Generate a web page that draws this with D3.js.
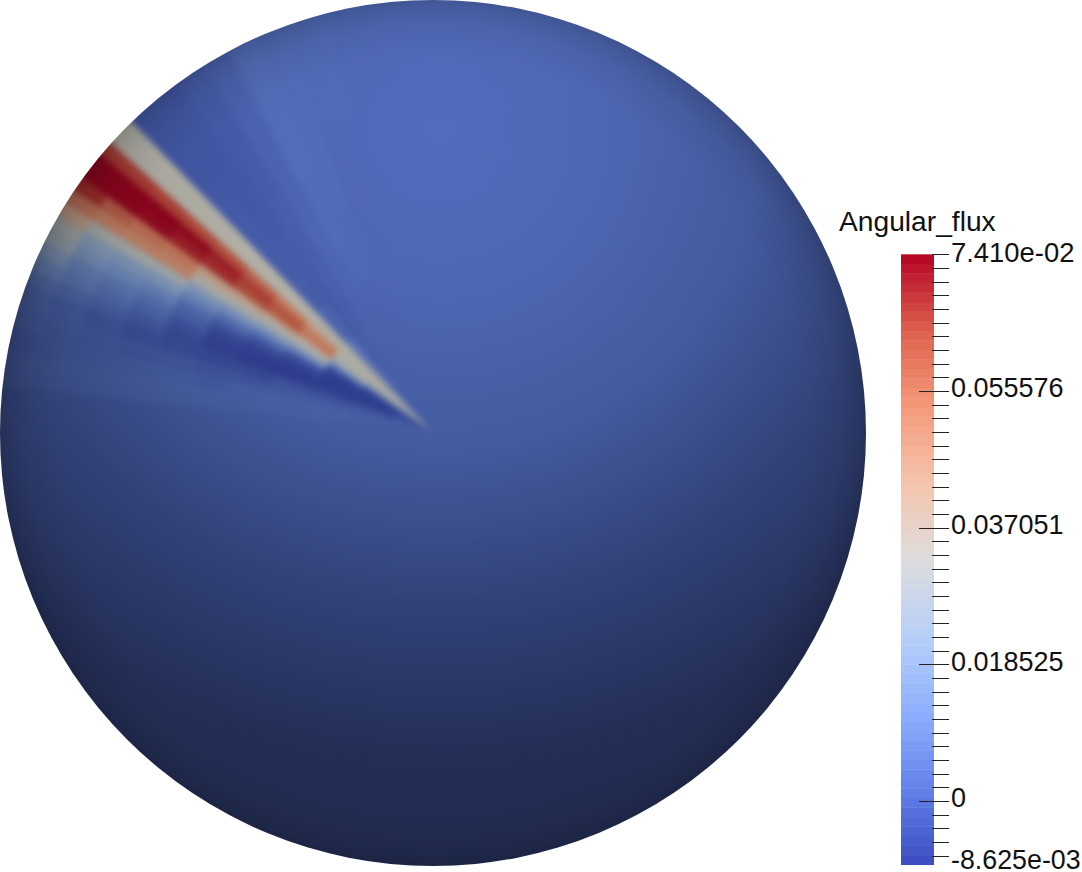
<!DOCTYPE html>
<html>
<head>
<meta charset="utf-8">
<script src="https://cdnjs.cloudflare.com/ajax/libs/d3/7.8.5/d3.min.js"></script>
<style>html,body{margin:0;padding:0;background:#fff;overflow:hidden}svg{display:block}</style>
</head>
<body>
<script>
// ---------- data ----------
const legendTitle = "Angular_flux";
const fluxMin = -8.625e-3, fluxMax = 7.410e-2;
const majorTicks = [0, 0.018525, 0.037051, 0.055576];
const tickLabels = ["0", "0.018525", "0.037051", "0.055576"];
const minLabel = "-8.625e-03", maxLabel = "7.410e-02";
const colorPalette = ["#3b4cc0","#6282ea","#8db0fe","#b8d0f9","#dddddd","#f5c4ad","#f49a7b","#de604d","#b40426"];
const bandCount = 64;
const backgroundFlux = 0.2e-3;
// angular edges in degrees above the leftward direction
const angleEdges = [6,11,14,17,20,22,24,26,28,30,32,34,36,38,40,42,44,46,50,54,58,62,66,70,76];
// radial edges of the rings, pixels of the disc
const ringEdges = [0,40,80,123,165,205,245,285,325,365,400,446];
// flux in 1e-3 units: one row per ring, one column per angular bin
const fluxMilli = [
 [0,0,0,0,-1,-3,-5,-6,-6,-6,-5,4,22,33,33,33,33, 4,0,0,0,0,0,0],
 [0.5,0,0,-2,-6,-8,-8,-8,-8,-7,-5,6,26,33,33,33,33, 6,0,0,0,0,0,0],
 [1,1,-1,-3,-7,-8,-8,-8,-8,-7,1,18,30,33,33,33,33, 5,-1,-0.5,0,0,0,0],
 [1,1,-1,-3,-8,-8,-8,-6,-2,12,28,33,52,54,46,33,33, 1,-1.5,-1,0,0,0,0],
 [1,1,-2,-5,-8,-8,-7,-4,3,14,28,36,60,62,54,33,33, -1,-2,-1,0,0.5,0.5,0],
 [1.5,0,-2,-5,-7,-7,-6,-1,6,16,30,40,64,66,58,33,33, -1.5,-2,-1.5,0,1,0.5,0],
 [2,1,-1,-4,-5,-3,0,3,10,18,32,42,68,70,62,33,33, -1.5,-2.5,-1.5,-0.5,1,1,0],
 [2,1,-1,-3,-1,2,5,10,17,28,50,54,70,73,64,33,33, -2,-2.5,-2,-0.5,1.5,1,0],
 [2,1,0,-1,2,5,8,13,18,30,51,56,73,74,65,33,33, -2.5,-2.5,-2,-0.5,1.5,1,0.5],
 [2,1,1,1,4,8,10,16,20,31,52,60,74,74,66,33,33, -2.5,-2.5,-2,-0.5,1.5,1,0.5],
 [2,1,2,3,6,11,18,26,30,42,55,68,74,74,66,33,33, -2.5,-2.5,-1.5,-0.5,1.5,1,0.5]
];
// sphere lighting: distance from the highlight as a fraction, and brightness
const lightOffsets = [0, 0.2, 0.42, 0.62, 0.82, 1];
const lightLevels = [0.89, 0.85, 0.74, 0.54, 0.38, 0.35];
const lightBlueTint = [0.93, 0.93, 0.95, 0.98, 1, 1];
const rimOffsets = [0, 0.86, 0.94, 0.98, 1];
const rimLevels = [1, 1, 0.95, 0.88, 0.82];

// ---------- layout ----------
const W = 1082, H = 872;
const disc = {cx: 433, cy: 433, r: 433};
const apex = {x: 431, y: 431};
const bar = {x0: 901, x1: 934, tickEnd: 949, majorStart: 919, minorStart: 932, labelX: 951};

const svg = d3.select("body").append("svg").attr("width", W).attr("height", H);
const defs = svg.append("defs");

const yScale = d3.scaleLinear().domain([0, fluxMax]).range([801, 254.3]);
const colorT = d3.scaleLinear().domain([fluxMin, fluxMax]).range([0, 1]);
const paletteT = d3.scaleLinear()
  .domain(colorPalette.map((_, i) => i / (colorPalette.length - 1)))
  .range(colorPalette).interpolate(d3.interpolateRgb);
const color = v => paletteT(colorT(v));

// ---------- disc ----------
defs.append("clipPath").attr("id", "discClip").append("circle")
  .attr("cx", disc.cx).attr("cy", disc.cy).attr("r", disc.r);
defs.append("filter").attr("id", "smooth")
  .attr("filterUnits", "userSpaceOnUse").attr("x", -40).attr("y", -40).attr("width", 1000).attr("height", 1000)
  .attr("color-interpolation-filters", "sRGB")
  .append("feGaussianBlur").attr("stdDeviation", 3);

const lightGrad = defs.append("radialGradient").attr("id", "light")
  .attr("gradientUnits", "userSpaceOnUse").attr("cx", 440).attr("cy", 130).attr("r", 760);
lightOffsets.forEach((o, i) => lightGrad.append("stop").attr("offset", o)
  .attr("stop-color", d3.rgb(255 * lightLevels[i], 255 * lightLevels[i], 255 * lightLevels[i] * lightBlueTint[i])));
const rimGrad = defs.append("radialGradient").attr("id", "rim")
  .attr("gradientUnits", "userSpaceOnUse").attr("cx", disc.cx).attr("cy", disc.cy).attr("r", disc.r);
rimOffsets.forEach((o, i) => rimGrad.append("stop").attr("offset", o)
  .attr("stop-color", d3.rgb(255 * rimLevels[i], 255 * rimLevels[i], 255 * rimLevels[i])));

const discG = svg.append("g").attr("clip-path", "url(#discClip)").style("isolation", "isolate");
discG.append("circle").attr("cx", disc.cx).attr("cy", disc.cy).attr("r", disc.r + 2).attr("fill", color(backgroundFlux));

const toRad = d3.scaleLinear().domain([90, 0]).range([0, -Math.PI / 2]);
const arc = d3.arc();
const cells = fluxMilli.flatMap((row, ri) => row.map((v, ai) => ({
  innerRadius: ringEdges[ri], outerRadius: ringEdges[ri + 1],
  startAngle: toRad(angleEdges[ai]), endAngle: toRad(angleEdges[ai + 1]),
  value: v * 1e-3
})));
discG.append("g").attr("filter", "url(#smooth)")
  .append("g").attr("transform", `translate(${apex.x},${apex.y})`)
  .selectAll("path").data(cells).join("path")
  .attr("d", arc).attr("fill", d => color(d.value)).attr("stroke", d => color(d.value)).attr("stroke-width", 0.6);

discG.append("circle").attr("cx", disc.cx).attr("cy", disc.cy).attr("r", disc.r + 2)
  .attr("fill", "url(#light)").style("mix-blend-mode", "multiply");
discG.append("circle").attr("cx", disc.cx).attr("cy", disc.cy).attr("r", disc.r + 1)
  .attr("fill", "url(#rim)").style("mix-blend-mode", "multiply");

// ---------- colour bar ----------
const font = "'Liberation Sans', Arial, sans-serif";
const bandStep = (fluxMax - fluxMin) / bandCount;
const bands = d3.range(bandCount).map(i => fluxMin + (i + 0.5) * bandStep);
svg.append("g").selectAll("rect").data(bands).join("rect")
  .attr("x", bar.x0).attr("width", bar.x1 - bar.x0)
  .attr("y", d => yScale(d + bandStep / 2))
  .attr("height", d => yScale(d - bandStep / 2) - yScale(d + bandStep / 2) + 0.4)
  .attr("fill", d => color(d));

const minorStep = 0.018525 / 10;
const minorTicks = d3.range(-4, 41).map(i => i * minorStep);
const isMajor = v => majorTicks.some(m => Math.abs(m - v) < minorStep / 4);
const tickG = svg.append("g").attr("stroke", "#222").attr("stroke-width", 1);
tickG.selectAll("line").data(minorTicks).join("line")
  .attr("x1", d => isMajor(d) ? bar.majorStart : bar.minorStart)
  .attr("x2", bar.tickEnd)
  .attr("y1", d => Math.round(yScale(d)) + 0.5).attr("y2", d => Math.round(yScale(d)) + 0.5);

const textG = svg.append("g").attr("font-family", font).attr("fill", "#111").attr("font-size", 27);
textG.append("text").attr("x", 839).attr("y", 231).attr("font-size", 28.2).text(legendTitle);
textG.append("text").attr("x", bar.labelX).attr("y", yScale(fluxMax) + 7.7).attr("font-size", 27.4).text(maxLabel);
textG.append("text").attr("x", bar.labelX).attr("y", yScale(fluxMin) + 4.2).attr("font-size", 26.8).text(minLabel);
textG.selectAll("text.tick").data(majorTicks).join("text").attr("class", "tick")
  .attr("x", bar.labelX).attr("y", d => yScale(d) + 6.3)
  .text((d, i) => tickLabels[i]);
</script>
</body>
</html>
